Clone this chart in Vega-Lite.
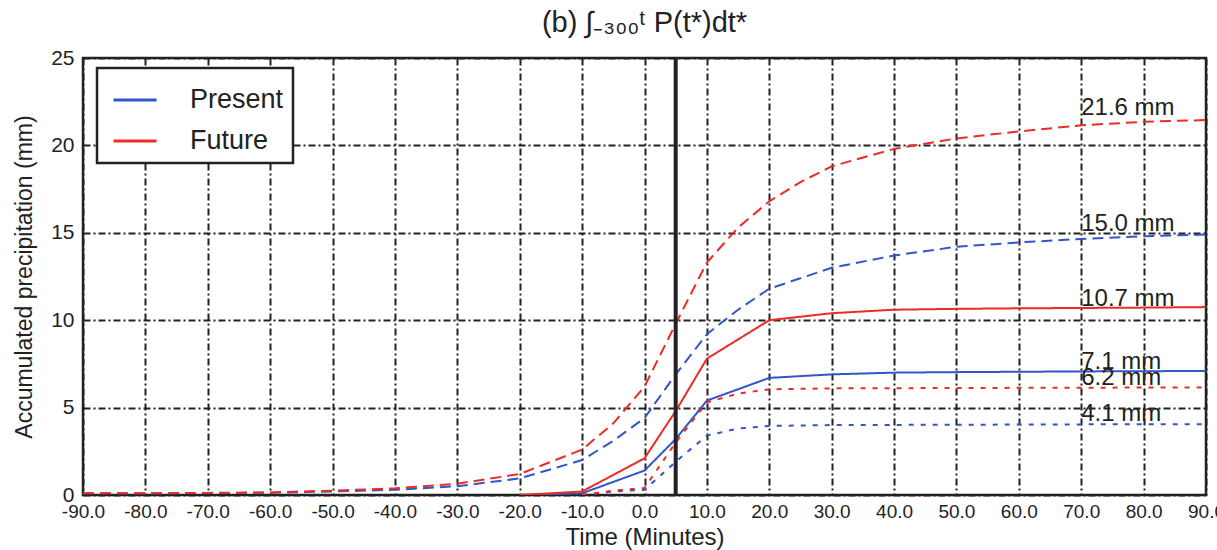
{
  "$schema": "https://vega.github.io/schema/vega-lite/v6.json",
  "width": 1123,
  "height": 437,
  "autosize": {"type": "none"},
  "padding": {"left": 83, "top": 58, "right": 11, "bottom": 55},
  "background": "white",
  "config": {
    "font": "Liberation Sans",
    "view": {"stroke": "#222", "strokeWidth": 2.5},
    "axis": {
      "domain": false,
      "ticks": false,
      "grid": true,
      "gridColor": "#222",
      "gridOpacity": 1,
      "gridWidth": 2,
      "gridDash": [7, 3, 2, 3],
      "labelColor": "#222",
      "titleColor": "#222",
      "titleFontWeight": "normal",
      "labelFont": "Liberation Sans",
      "titleFont": "Liberation Sans",
      "zindex": 1
    }
  },
  "title": {
    "text": "(b) ∫₋₃₀₀ᵗ P(t*)dt*",
    "fontSize": 29,
    "fontWeight": "normal",
    "font": "Liberation Sans",
    "color": "#222",
    "offset": 9
  },
  "datasets": {
    "lines": [
      {"t": -20, "v": 0.0, "s": "Present", "k": "solid"},
      {"t": -10, "v": 0.1, "s": "Present", "k": "solid"},
      {"t": 0, "v": 1.4, "s": "Present", "k": "solid"},
      {"t": 5, "v": 3.2, "s": "Present", "k": "solid"},
      {"t": 10, "v": 5.4, "s": "Present", "k": "solid"},
      {"t": 20, "v": 6.7, "s": "Present", "k": "solid"},
      {"t": 30, "v": 6.9, "s": "Present", "k": "solid"},
      {"t": 40, "v": 7.0, "s": "Present", "k": "solid"},
      {"t": 50, "v": 7.03, "s": "Present", "k": "solid"},
      {"t": 60, "v": 7.05, "s": "Present", "k": "solid"},
      {"t": 70, "v": 7.07, "s": "Present", "k": "solid"},
      {"t": 80, "v": 7.08, "s": "Present", "k": "solid"},
      {"t": 90, "v": 7.1, "s": "Present", "k": "solid"},

      {"t": -20, "v": 0.0, "s": "Future", "k": "solid"},
      {"t": -10, "v": 0.2, "s": "Future", "k": "solid"},
      {"t": 0, "v": 2.1, "s": "Future", "k": "solid"},
      {"t": 5, "v": 4.8, "s": "Future", "k": "solid"},
      {"t": 10, "v": 7.8, "s": "Future", "k": "solid"},
      {"t": 20, "v": 10.0, "s": "Future", "k": "solid"},
      {"t": 30, "v": 10.4, "s": "Future", "k": "solid"},
      {"t": 40, "v": 10.6, "s": "Future", "k": "solid"},
      {"t": 50, "v": 10.65, "s": "Future", "k": "solid"},
      {"t": 60, "v": 10.68, "s": "Future", "k": "solid"},
      {"t": 70, "v": 10.7, "s": "Future", "k": "solid"},
      {"t": 80, "v": 10.72, "s": "Future", "k": "solid"},
      {"t": 90, "v": 10.75, "s": "Future", "k": "solid"},

      {"t": -90, "v": 0.1, "s": "Present", "k": "dashed"},
      {"t": -80, "v": 0.1, "s": "Present", "k": "dashed"},
      {"t": -70, "v": 0.11, "s": "Present", "k": "dashed"},
      {"t": -60, "v": 0.13, "s": "Present", "k": "dashed"},
      {"t": -50, "v": 0.2, "s": "Present", "k": "dashed"},
      {"t": -40, "v": 0.3, "s": "Present", "k": "dashed"},
      {"t": -30, "v": 0.5, "s": "Present", "k": "dashed"},
      {"t": -20, "v": 0.95, "s": "Present", "k": "dashed"},
      {"t": -10, "v": 2.0, "s": "Present", "k": "dashed"},
      {"t": -5, "v": 3.1, "s": "Present", "k": "dashed"},
      {"t": 0, "v": 4.4, "s": "Present", "k": "dashed"},
      {"t": 5, "v": 6.9, "s": "Present", "k": "dashed"},
      {"t": 10, "v": 9.2, "s": "Present", "k": "dashed"},
      {"t": 15, "v": 10.6, "s": "Present", "k": "dashed"},
      {"t": 20, "v": 11.8, "s": "Present", "k": "dashed"},
      {"t": 30, "v": 13.0, "s": "Present", "k": "dashed"},
      {"t": 40, "v": 13.7, "s": "Present", "k": "dashed"},
      {"t": 50, "v": 14.2, "s": "Present", "k": "dashed"},
      {"t": 60, "v": 14.45, "s": "Present", "k": "dashed"},
      {"t": 70, "v": 14.65, "s": "Present", "k": "dashed"},
      {"t": 80, "v": 14.8, "s": "Present", "k": "dashed"},
      {"t": 90, "v": 14.9, "s": "Present", "k": "dashed"},

      {"t": -90, "v": 0.1, "s": "Future", "k": "dashed"},
      {"t": -80, "v": 0.1, "s": "Future", "k": "dashed"},
      {"t": -70, "v": 0.12, "s": "Future", "k": "dashed"},
      {"t": -60, "v": 0.15, "s": "Future", "k": "dashed"},
      {"t": -50, "v": 0.25, "s": "Future", "k": "dashed"},
      {"t": -40, "v": 0.38, "s": "Future", "k": "dashed"},
      {"t": -30, "v": 0.65, "s": "Future", "k": "dashed"},
      {"t": -20, "v": 1.2, "s": "Future", "k": "dashed"},
      {"t": -10, "v": 2.6, "s": "Future", "k": "dashed"},
      {"t": -5, "v": 4.1, "s": "Future", "k": "dashed"},
      {"t": 0, "v": 6.2, "s": "Future", "k": "dashed"},
      {"t": 5, "v": 9.8, "s": "Future", "k": "dashed"},
      {"t": 10, "v": 13.3, "s": "Future", "k": "dashed"},
      {"t": 15, "v": 15.3, "s": "Future", "k": "dashed"},
      {"t": 20, "v": 16.8, "s": "Future", "k": "dashed"},
      {"t": 25, "v": 17.9, "s": "Future", "k": "dashed"},
      {"t": 30, "v": 18.8, "s": "Future", "k": "dashed"},
      {"t": 40, "v": 19.8, "s": "Future", "k": "dashed"},
      {"t": 50, "v": 20.4, "s": "Future", "k": "dashed"},
      {"t": 60, "v": 20.8, "s": "Future", "k": "dashed"},
      {"t": 70, "v": 21.15, "s": "Future", "k": "dashed"},
      {"t": 80, "v": 21.35, "s": "Future", "k": "dashed"},
      {"t": 90, "v": 21.45, "s": "Future", "k": "dashed"},

      {"t": -10, "v": 0.0, "s": "Present", "k": "dotted"},
      {"t": -5, "v": 0.2, "s": "Present", "k": "dotted"},
      {"t": 0, "v": 0.3, "s": "Present", "k": "dotted"},
      {"t": 5, "v": 1.9, "s": "Present", "k": "dotted"},
      {"t": 10, "v": 3.4, "s": "Present", "k": "dotted"},
      {"t": 15, "v": 3.8, "s": "Present", "k": "dotted"},
      {"t": 20, "v": 3.95, "s": "Present", "k": "dotted"},
      {"t": 30, "v": 4.0, "s": "Present", "k": "dotted"},
      {"t": 50, "v": 4.02, "s": "Present", "k": "dotted"},
      {"t": 70, "v": 4.04, "s": "Present", "k": "dotted"},
      {"t": 90, "v": 4.05, "s": "Present", "k": "dotted"},

      {"t": -10, "v": 0.0, "s": "Future", "k": "dotted"},
      {"t": -5, "v": 0.25, "s": "Future", "k": "dotted"},
      {"t": 0, "v": 0.4, "s": "Future", "k": "dotted"},
      {"t": 5, "v": 3.0, "s": "Future", "k": "dotted"},
      {"t": 10, "v": 5.3, "s": "Future", "k": "dotted"},
      {"t": 15, "v": 5.8, "s": "Future", "k": "dotted"},
      {"t": 20, "v": 6.05, "s": "Future", "k": "dotted"},
      {"t": 30, "v": 6.1, "s": "Future", "k": "dotted"},
      {"t": 50, "v": 6.12, "s": "Future", "k": "dotted"},
      {"t": 70, "v": 6.14, "s": "Future", "k": "dotted"},
      {"t": 90, "v": 6.15, "s": "Future", "k": "dotted"}
    ],
    "labels": [
      {"t": 70, "v": 21.6, "label": "21.6 mm"},
      {"t": 70, "v": 15.0, "label": "15.0 mm"},
      {"t": 70, "v": 10.7, "label": "10.7 mm"},
      {"t": 70, "v": 7.1, "label": "7.1 mm"},
      {"t": 70, "v": 6.2, "label": "6.2 mm"},
      {"t": 70, "v": 4.1, "label": "4.1 mm"}
    ]
  },
  "layer": [
    {
      "data": {"name": "lines"},
      "mark": {"type": "line", "strokeWidth": 2, "clip": true},
      "encoding": {
        "x": {
          "field": "t",
          "type": "quantitative",
          "scale": {"domain": [-90, 90], "nice": false, "zero": false},
          "axis": {
            "title": "Time (Minutes)",
            "titleFontSize": 24,
            "titlePadding": 4,
            "values": [-90, -80, -70, -60, -50, -40, -30, -20, -10, 0, 10, 20, 30, 40, 50, 60, 70, 80, 90],
            "labelExpr": "replace(format(datum.value, '.1f'), '\u2212', '-')",
            "labelFontSize": 19,
            "labelPadding": 7,
            "labelFlush": false,
            "labelOverlap": false
          }
        },
        "y": {
          "field": "v",
          "type": "quantitative",
          "scale": {"domain": [0, 25], "nice": false},
          "axis": {
            "title": "Accumulated precipitation (mm)",
            "titleFontSize": 23,
            "titlePadding": 14,
            "values": [0, 5, 10, 15, 20, 25],
            "format": "d",
            "labelFontSize": 21,
            "labelPadding": 9,
            "labelFlush": false
          }
        },
        "color": {
          "field": "s",
          "type": "nominal",
          "scale": {"domain": ["Present", "Future"], "range": ["#3355cc", "#ee2a24"]},
          "legend": {
            "title": "\u00a0",
            "titleOrient": "left",
            "titleFontSize": 10,
            "titlePadding": 6,
            "orient": "none",
            "legendX": 14,
            "legendY": 10,
            "direction": "vertical",
            "symbolType": "stroke",
            "symbolSize": 1849,
            "symbolStrokeWidth": 3,
            "labelFontSize": 27,
            "labelColor": "#222",
            "labelOffset": 32,
            "padding": 9,
            "rowPadding": 5,
            "fillColor": "white",
            "strokeColor": "#222",
            "encode": {"legend": {"update": {"strokeWidth": {"value": 2.5}}}}
          }
        },
        "strokeDash": {
          "field": "k",
          "type": "nominal",
          "scale": {"domain": ["solid", "dashed", "dotted"], "range": [[1, 0], [11, 6], [5, 7]]},
          "legend": null
        }
      }
    },
    {
      "data": {"values": [{}]},
      "mark": {"type": "rule", "stroke": "#222", "strokeWidth": 4},
      "encoding": {"x": {"datum": 5, "type": "quantitative"}}
    },
    {
      "data": {"name": "labels"},
      "mark": {"type": "text", "align": "left", "baseline": "alphabetic", "dy": -2, "fontSize": 24, "color": "#222", "font": "Liberation Sans"},
      "encoding": {
        "x": {"field": "t", "type": "quantitative"},
        "y": {"field": "v", "type": "quantitative"},
        "text": {"field": "label"}
      }
    }
  ]
}
